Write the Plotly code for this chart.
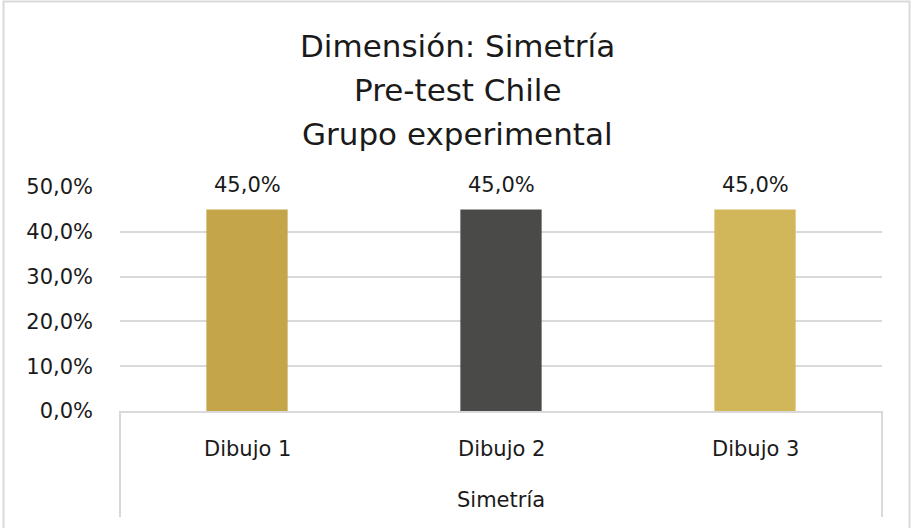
import plotly.graph_objects as go

categories = ["Dibujo 1", "Dibujo 2", "Dibujo 3"]
values = [0.45, 0.45, 0.45]
bar_colors = ["#C5A54A", "#4A4A48", "#D2B65A"]
group_label = "Simetría"
title_lines = ["Dimensión: Simetría", "Pre-test Chile", "Grupo experimental"]
y_ticks = [0, 0.1, 0.2, 0.3, 0.4, 0.5]

FONT = "DejaVu Sans"
TXT = "#1a1a1a"
GRID = "#D9D9D9"
LBL = 21

fig = go.Figure()
fig.add_trace(go.Bar(
    x=categories, y=values, marker=dict(color=bar_colors, line=dict(width=0)),
    width=0.32, hoverinfo="skip", cliponaxis=False,
))

annotations = []
for c, v in zip(categories, values):
    annotations.append(dict(
        x=c, y=v, xref="x", yref="y", text=f"{v*100:.1f}%".replace(".", ","),
        showarrow=False, yshift=24, yanchor="middle",
        font=dict(family=FONT, size=LBL, color=TXT),
    ))
    annotations.append(dict(
        x=c, y=0, xref="x", yref="y", text=c, showarrow=False, yshift=-38,
        yanchor="middle", font=dict(family=FONT, size=LBL, color=TXT),
    ))
annotations.append(dict(
    x=0.5, y=0, xref="paper", yref="paper", text=group_label, showarrow=False,
    yshift=-89, yanchor="middle", font=dict(family=FONT, size=LBL, color=TXT),
))
for i, t in enumerate(title_lines):
    annotations.append(dict(
        x=0.5, xref="paper", y=1, yref="paper", text=t, showarrow=False,
        yanchor="middle", yshift=141 - 44 * i, xshift=-44,
        font=dict(family=FONT, size=31, color=TXT),
    ))

H = 224.0
W = 762.0
shapes = [
    dict(type="line", xref="paper", yref="paper", x0=0, x1=0, y0=0, y1=-106/H,
         line=dict(color=GRID, width=2)),
    dict(type="line", xref="paper", yref="paper", x0=1, x1=1, y0=0, y1=-106/H,
         line=dict(color=GRID, width=2)),
    dict(type="rect", xref="paper", yref="paper", x0=-116.5/W, x1=1 + 27.5/W,
         y0=-125/H, y1=1 + 185.5/H, line=dict(color=GRID, width=2)),
]

fig.update_layout(
    width=911, height=528,
    margin=dict(l=120, r=29, t=187, b=117),
    paper_bgcolor="white", plot_bgcolor="white",
    separators=",.",
    showlegend=False,
    annotations=annotations,
    shapes=shapes,
    xaxis=dict(showticklabels=False, showgrid=False, zeroline=False,
               showline=True, linecolor=GRID, linewidth=2, ticks=""),
    yaxis=dict(range=[0, 0.5], tickvals=y_ticks, tickformat=".1%",
               showgrid=True, gridcolor=GRID, gridwidth=2,
               zeroline=False, showline=False, ticks="", ticklen=0,
               ticklabelstandoff=26,
               tickfont=dict(family=FONT, size=LBL, color=TXT)),
)

fig.write_html("out.html")
